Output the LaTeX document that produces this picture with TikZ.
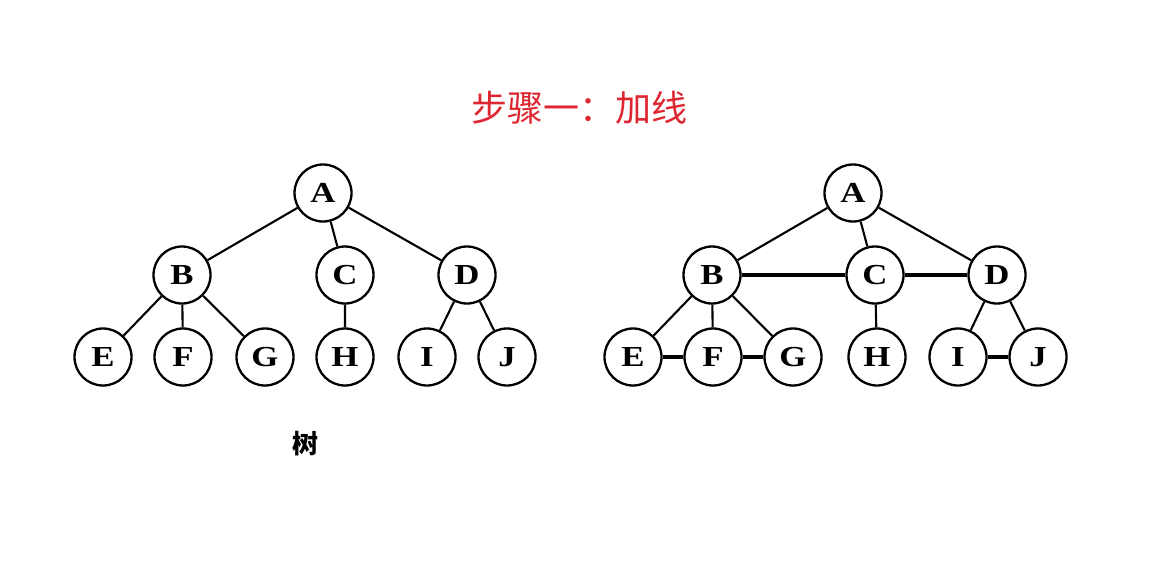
\documentclass[tikz,border=0pt]{standalone}
\usepackage{fontspec}
\setmainfont{Liberation Serif}
\newfontfamily\cjk{Noto Sans CJK SC}
\definecolor{titlered}{RGB}{222,38,48}
\begin{document}
\begin{tikzpicture}[x=1pt,y=-1pt,
  vtx/.style={circle,draw,line width=2.3pt,minimum size=57pt,inner sep=0pt,
    font=\fontsize{29}{29}\selectfont\bfseries},
  edge/.style={line width=2.1pt},
  added/.style={line width=4.6pt}]
\useasboundingbox (0,0) rectangle (1161,573);
\node[text=titlered,font=\cjk\fontsize{36}{36}\selectfont] (title) at (579,108) {步骤一：加线};
% left tree
\node[vtx] (A) at (323,193) {\scalebox{1.2}[1]{A}};
\node[vtx] (B) at (182,275) {\scalebox{1.2}[1]{B}};
\node[vtx] (C) at (345,275) {\scalebox{1.2}[1]{C}};
\node[vtx] (D) at (467,275) {\scalebox{1.2}[1]{D}};
\node[vtx] (E) at (103,357) {\scalebox{1.2}[1]{E}};
\node[vtx] (F) at (183,357) {\scalebox{1.2}[1]{F}};
\node[vtx] (G) at (265,357) {\scalebox{1.2}[1]{G}};
\node[vtx] (H) at (345,357) {\scalebox{1.2}[1]{H}};
\node[vtx] (I) at (427,357) {\scalebox{1.2}[1]{I}};
\node[vtx] (J) at (507,357) {\scalebox{1.2}[1]{J}};
\draw[edge] (A)--(B) (A)--(C) (A)--(D) (B)--(E) (B)--(F) (B)--(G) (C)--(H) (D)--(I) (D)--(J);
\node[font=\cjk\fontsize{26}{26}\selectfont\bfseries] (shu) at (305,444) {树};
% right tree
\node[vtx] (A2) at (853,193) {\scalebox{1.2}[1]{A}};
\node[vtx] (B2) at (712,275) {\scalebox{1.2}[1]{B}};
\node[vtx] (C2) at (875,275) {\scalebox{1.2}[1]{C}};
\node[vtx] (D2) at (997,275) {\scalebox{1.2}[1]{D}};
\node[vtx] (E2) at (633,357) {\scalebox{1.2}[1]{E}};
\node[vtx] (F2) at (713,357) {\scalebox{1.2}[1]{F}};
\node[vtx] (G2) at (793,357) {\scalebox{1.2}[1]{G}};
\node[vtx] (H2) at (877,357) {\scalebox{1.2}[1]{H}};
\node[vtx] (I2) at (958,357) {\scalebox{1.2}[1]{I}};
\node[vtx] (J2) at (1038,357) {\scalebox{1.2}[1]{J}};
\draw[edge] (A2)--(B2) (A2)--(C2) (A2)--(D2) (B2)--(E2) (B2)--(F2) (B2)--(G2) (C2)--(H2) (D2)--(I2) (D2)--(J2);
\draw[added] (B2)--(C2) (C2)--(D2) (E2)--(F2) (F2)--(G2) (I2)--(J2);
\end{tikzpicture}
\end{document}
